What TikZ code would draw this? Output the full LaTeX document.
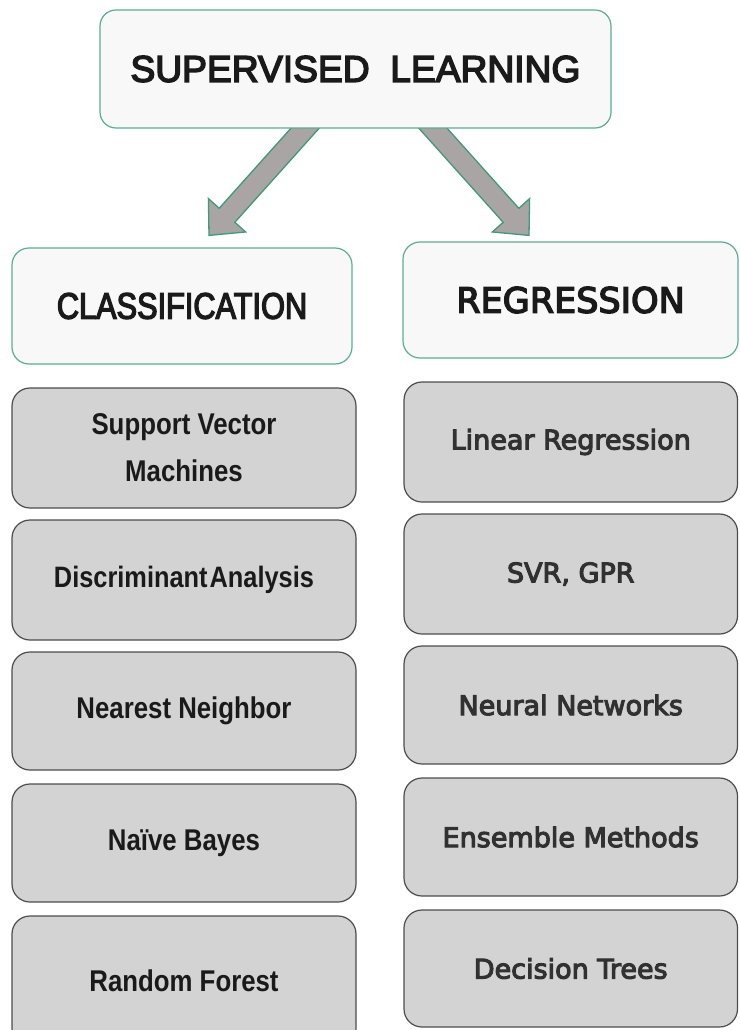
\documentclass[tikz,border=0pt]{standalone}
\usepackage{fontspec}
\usetikzlibrary{calc}
\newfontfamily\headfont{Liberation Sans}[FakeBold=4,FakeStretch=1.0]
\newfontfamily\classfont{Liberation Sans}[FakeBold=3.5,FakeStretch=0.83]
\newfontfamily\narrowfont{Liberation Sans}[FakeStretch=0.86]
\newfontfamily\roundfont{DejaVu Sans}[FakeBold=4]
\definecolor{hdrfill}{HTML}{F8F8F8}
\definecolor{hdrline}{HTML}{5AAE93}
\definecolor{arrfill}{HTML}{A9A5A5}
\definecolor{arrline}{HTML}{3F9A78}
\definecolor{itemfill}{HTML}{D3D3D3}
\definecolor{itemline}{HTML}{4D4D4D}
\definecolor{ink}{HTML}{1A1A1A}
\begin{document}
\begin{tikzpicture}[x=1pt,y=-1pt,
  headbox/.style={draw=hdrline, fill=hdrfill, line width=1.2pt,
    rounded corners=17pt, text=ink, inner sep=0pt},
  leftitem/.style={draw=itemline, fill=itemfill, line width=1.2pt,
    rounded corners=18pt, minimum width=344pt, text=ink, align=center,
    inner sep=0pt, font=\narrowfont\bfseries\fontsize{30}{47}\selectfont},
  rightitem/.style={draw=itemline, fill=itemfill, line width=1.2pt,
    rounded corners=18pt, minimum width=333.5pt, text=ink!90, align=center,
    inner sep=0pt, font=\roundfont\fontsize{27}{32}\selectfont},
  fatarrow/.style={fill=arrfill, draw=arrline, line width=1.3pt, line join=miter}]
\clip (0,0) rectangle (739,1030);
\fill[white] (0,0) rectangle (739,1030);

% heading boxes
\node[headbox, minimum width=340pt, minimum height=116pt,
  font=\classfont\fontsize{37}{40}\selectfont] (cls) at (182,306) {CLASSIFICATION};
\node[headbox, minimum width=335pt, minimum height=116pt,
  font=\roundfont\fontsize{35}{40}\selectfont] (reg) at (570.5,300) {REGRESSION};

% fat arrows from the title box down to the two headings
\coordinate (ls) at ($(355.5,128)+(-39.5,-12)$);
\coordinate (lt) at ($(cls.north)+(27,-12)$);
\coordinate (rs) at ($(355.5,128)+(66.5,-12)$);
\coordinate (rt) at ($(reg.north)+(-41.5,-6)$);
\foreach \s/\t in {ls/lt, rs/rt}{
  \coordinate (\s h) at ($(\t)!27pt!(\s)$);
  \filldraw[fatarrow]
    ($(\s)!10.5pt!90:(\t)$) -- ($(\s h)!10.5pt!90:(\t)$) -- ($(\s h)!25pt!90:(\t)$)
    -- (\t) -- ($(\s h)!25pt!-90:(\t)$) -- ($(\s h)!10.5pt!-90:(\t)$)
    -- ($(\s)!10.5pt!-90:(\t)$) -- cycle;
}

% title box
\node[headbox, rounded corners=16pt, minimum width=511pt, minimum height=118pt,
  font=\headfont\fontsize{37.2}{40}\selectfont] (sl) at (355.5,69)
  {SUPERVISED\ \ LEARNING\hspace{8pt}};

% classification methods
\node[leftitem, minimum height=120pt] (svm) at (184,448) {Support Vector\\Machines};
\node[leftitem, minimum height=120pt, font=\narrowfont\bfseries\fontsize{29.5}{32}\selectfont]
  (da) at (184,580) {Discriminant\hspace{2pt}Analysis};
\node[leftitem, minimum height=118pt] (nn)  at (184,711) {Nearest Neighbor};
\node[leftitem, minimum height=118pt] (nb)  at (184,843) {Naïve Bayes};
\node[leftitem, minimum height=130pt] (rf)  at (184,981) {Random Forest};

% regression methods
\node[rightitem, minimum height=120pt] (lr)  at (570.75,442) {Linear Regression};
\node[rightitem, minimum height=120pt] (svr) at (570.75,574) {SVR, GPR};
\node[rightitem, minimum height=118pt] (nnw) at (570.75,705) {Neural Networks};
\node[rightitem, minimum height=118pt] (em)  at (570.75,837) {Ensemble Methods};
\node[rightitem, minimum height=117pt] (dt)  at (570.75,968.5) {Decision Trees};
\end{tikzpicture}
\end{document}
